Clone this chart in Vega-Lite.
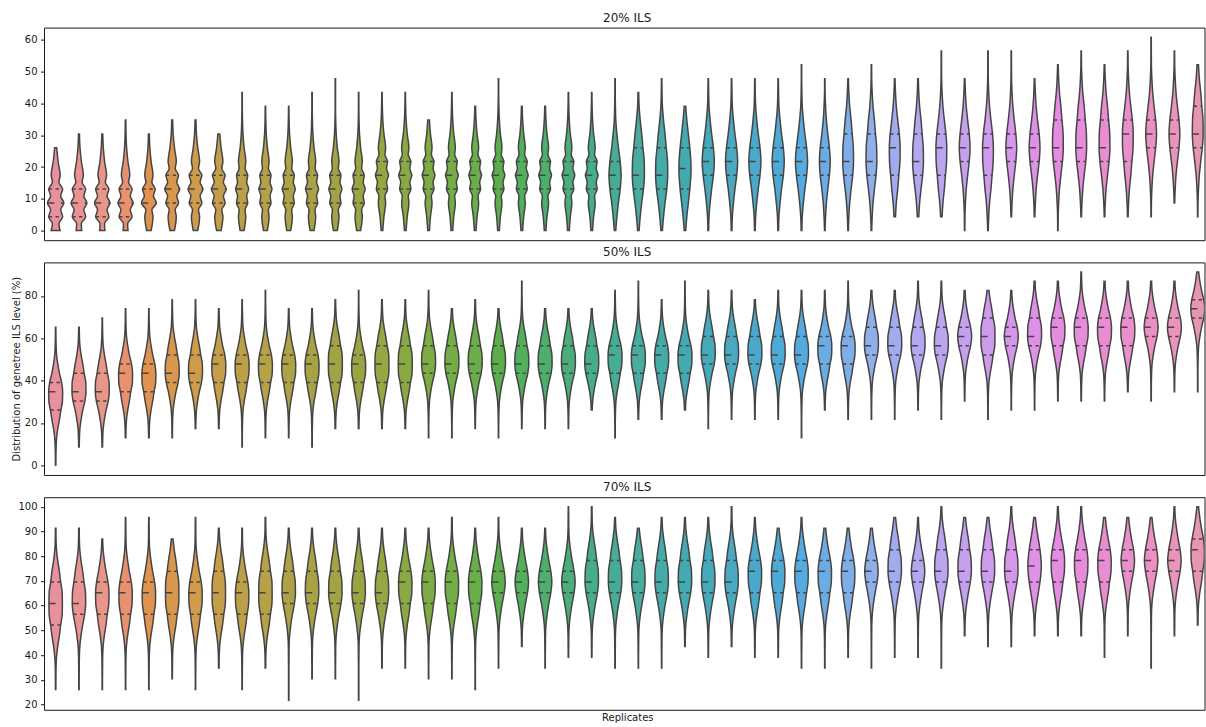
{
"$schema":"https://vega.github.io/schema/vega-lite/v6.json",
"background":"white",
"padding":{"left":10,"top":10.6,"right":0,"bottom":0},
"bounds":"flush",
"spacing":21.8,
"config":{
 "view":{"stroke":"#1a1a1a","strokeWidth":1},
 "font":"DejaVu Sans",
 "axis":{"grid":false,"domain":false,"tickColor":"#1a1a1a","tickSize":3.5,"tickWidth":1,"labelFont":"DejaVu Sans","labelFontSize":10,"labelColor":"#1a1a1a","labelPadding":3.5,"titleFont":"DejaVu Sans","titleFontSize":10,"titleFontWeight":"normal","titleColor":"#1a1a1a"},
 "title":{"font":"DejaVu Sans","fontSize":12,"fontWeight":"normal","color":"#1a1a1a","offset":3,"anchor":"middle","dx":3}
},
"datasets":{"v":[
{"p":1,"r":1,"q1":1,"md":2,"q3":3,"k":[0,0.5,1,1.5,2,2.5,3,3.5,4,5,6],"d":[48,35,75,54,88,54,75,35,48,26,11]},
{"p":1,"r":2,"q1":1,"md":2,"q3":3,"k":[0,0.5,1,1.5,2,2.5,3,3.5,4,5,6,7],"d":[30,25,72,52,85,52,72,34,47,26,11,5]},
{"p":1,"r":3,"q1":1,"md":2,"q3":3,"k":[0,0.5,1,1.5,2,2.5,3,3.5,4,5,6,7],"d":[28,24,71,51,83,51,71,33,46,25,11,5]},
{"p":1,"r":4,"q1":1,"md":2,"q3":3,"k":[0,0.5,1,1.5,2,2.5,3,3.5,4,5,6,7,8],"d":[26,22,70,50,82,50,70,32,45,25,11,5,3]},
{"p":1,"r":5,"q1":2,"md":2,"q3":3,"k":[0,1,1.5,2,2.5,3,3.5,4,5,6,7],"d":[24,44,32,80,49,68,32,44,24,10,5]},
{"p":1,"r":6,"q1":2,"md":3,"q3":4,"k":[0,1,1.5,2,2.5,3,3.5,4,4.5,5,6,7,8],"d":[24,44,32,68,49,80,49,68,32,44,24,10,5]},
{"p":1,"r":7,"q1":2,"md":3,"q3":4,"k":[0,1,1.5,2,2.5,3,3.5,4,4.5,5,6,7,8],"d":[24,44,32,68,49,80,49,68,32,44,24,10,5]},
{"p":1,"r":8,"q1":2,"md":3,"q3":4,"k":[0,1,1.5,2,2.5,3,3.5,4,4.5,5,6,7],"d":[24,44,32,68,49,80,49,68,32,44,24,10]},
{"p":1,"r":9,"q1":2,"md":3,"q3":4,"k":[0,1,1.5,2,2.5,3,3.5,4,4.5,5,6,7,8,9,10],"d":[21,39,32,60,49,70,49,60,32,39,21,9,4,2,2]},
{"p":1,"r":10,"q1":2,"md":3,"q3":4,"k":[0,1,1.5,2,2.5,3,3.5,4,4.5,5,6,7,8,9],"d":[21,39,32,60,49,70,49,60,32,39,21,9,4,2]},
{"p":1,"r":11,"q1":2,"md":3,"q3":4,"k":[0,1,1.5,2,2.5,3,3.5,4,4.5,5,6,7,8,9],"d":[21,39,32,60,49,70,49,60,32,39,21,9,4,2]},
{"p":1,"r":12,"q1":2,"md":3,"q3":4,"k":[0,1,1.5,2,2.5,3,3.5,4,4.5,5,6,7,8,9,10],"d":[21,39,32,60,49,70,49,60,32,39,21,9,4,2,2]},
{"p":1,"r":13,"q1":2,"md":3,"q3":4,"k":[0,1,1.5,2,2.5,3,3.5,4,4.5,5,6,7,8,9,10,11],"d":[21,39,32,60,49,70,49,60,32,39,21,9,4,2,2,2]},
{"p":1,"r":14,"q1":2,"md":3,"q3":4,"k":[0,1,1.5,2,2.5,3,3.5,4,4.5,5,6,7,8,9,10],"d":[21,39,32,60,49,70,49,60,32,39,21,9,4,2,2]},
{"p":1,"r":15,"q1":3,"md":4,"q3":5,"k":[0,1,2,2.5,3,3.5,4,4.5,5,5.5,6,7,8,9,10],"d":[9,21,39,32,60,49,70,49,60,32,39,21,9,4,2]},
{"p":1,"r":16,"q1":3,"md":4,"q3":5,"k":[0,1,2,2.5,3,3.5,4,4.5,5,5.5,6,7,8,9,10],"d":[9,21,39,32,60,49,70,49,60,32,39,21,9,4,2]},
{"p":1,"r":17,"q1":3,"md":4,"q3":5,"k":[0,1,2,2.5,3,3.5,4,4.5,5,5.5,6,7,8],"d":[9,20,37,30,58,48,68,48,58,30,37,20,9]},
{"p":1,"r":18,"q1":3,"md":4,"q3":5,"k":[0,1,2,2.5,3,3.5,4,4.5,5,5.5,6,7,8,9,10],"d":[9,20,37,30,58,48,68,48,58,30,37,20,9,4,2]},
{"p":1,"r":19,"q1":3,"md":4,"q3":5,"k":[0,1,2,2.5,3,3.5,4,4.5,5,5.5,6,7,8,9],"d":[9,20,37,30,58,48,68,48,58,30,37,20,9,4]},
{"p":1,"r":20,"q1":3,"md":4,"q3":5,"k":[0,1,2,2.5,3,3.5,4,4.5,5,5.5,6,7,8,9,10,11],"d":[9,20,37,30,58,48,68,48,58,30,37,20,9,4,2,2]},
{"p":1,"r":21,"q1":3,"md":4,"q3":5,"k":[0,1,2,2.5,3,3.5,4,4.5,5,5.5,6,7,8,9],"d":[9,20,37,30,58,48,68,48,58,30,37,20,9,4]},
{"p":1,"r":22,"q1":3,"md":4,"q3":5,"k":[0,1,2,2.5,3,3.5,4,4.5,5,5.5,6,7,8,9],"d":[9,20,37,30,58,48,68,48,58,30,37,20,9,4]},
{"p":1,"r":23,"q1":3,"md":4,"q3":5,"k":[0,1,2,2.5,3,3.5,4,4.5,5,5.5,6,7,8,9,10],"d":[9,20,37,30,58,48,68,48,58,30,37,20,9,4,2]},
{"p":1,"r":24,"q1":3,"md":4,"q3":5,"k":[0,1,2,2.5,3,3.5,4,4.5,5,5.5,6,7,8,9,10],"d":[9,20,37,30,58,48,68,48,58,30,37,20,9,4,2]},
{"p":1,"r":25,"q1":3,"md":4,"q3":5,"k":[0,1,2,3,4,5,6,7,8,9,10,11],"d":[8,20,36,55,65,55,36,20,8,4,2,2]},
{"p":1,"r":26,"q1":3,"md":4,"q3":6,"k":[0,1,2,3,4,5,6,7,8,9,10],"d":[8,20,36,55,65,63,49,36,20,8,4]},
{"p":1,"r":27,"q1":3,"md":4,"q3":6,"k":[0,1,2,3,4,5,6,7,8,9,10,11],"d":[8,20,36,55,65,63,49,36,20,8,4,2]},
{"p":1,"r":28,"q1":3,"md":4.5,"q3":6,"k":[0,1,2,3,4,4.5,5,6,7,8,9],"d":[8,20,36,52,63,65,63,52,36,20,8]},
{"p":1,"r":29,"q1":4,"md":5,"q3":6,"k":[0,1,2,3,4,5,6,7,8,9,10,11],"d":[4,8,20,36,55,65,55,36,20,8,4,2]},
{"p":1,"r":30,"q1":4,"md":5,"q3":6,"k":[0,1,2,3,4,5,6,7,8,9,10,11],"d":[4,8,20,36,55,65,55,36,20,8,4,2]},
{"p":1,"r":31,"q1":4,"md":5,"q3":6,"k":[0,1,2,3,4,5,6,7,8,9,10,11],"d":[4,8,20,36,55,65,55,36,20,8,4,2]},
{"p":1,"r":32,"q1":4,"md":5,"q3":6,"k":[0,1,2,3,4,5,6,7,8,9,10,11],"d":[4,8,20,36,55,65,55,36,20,8,4,2]},
{"p":1,"r":33,"q1":4,"md":5,"q3":6,"k":[0,1,2,3,4,5,6,7,8,9,10,11,12],"d":[4,8,20,36,55,65,55,36,20,8,4,2,2]},
{"p":1,"r":34,"q1":4,"md":5,"q3":6,"k":[0,1,2,3,4,5,6,7,8,9,10,11],"d":[3,8,17,32,49,58,49,32,17,8,3,2]},
{"p":1,"r":35,"q1":4,"md":5,"q3":7,"k":[0,1,2,3,4,5,6,7,8,9,10,11],"d":[3,8,17,32,49,58,56,44,32,17,8,3]},
{"p":1,"r":36,"q1":4,"md":5,"q3":7,"k":[0,1,2,3,4,5,6,7,8,9,10,11,12],"d":[3,8,17,32,49,58,56,44,32,17,8,3,2]},
{"p":1,"r":37,"q1":4,"md":6,"q3":7,"k":[1,2,3,4,5,6,7,8,9,10,11],"d":[8,17,32,44,56,58,49,32,17,8,3]},
{"p":1,"r":38,"q1":4,"md":5,"q3":7,"k":[1,2,3,4,5,6,7,8,9,10,11],"d":[8,17,32,49,58,56,44,32,17,8,3]},
{"p":1,"r":39,"q1":4,"md":6,"q3":7,"k":[1,2,3,4,5,6,7,8,9,10,11,12,13],"d":[8,17,32,44,56,58,49,32,17,8,3,2,2]},
{"p":1,"r":40,"q1":5,"md":6,"q3":7,"k":[0,1,2,3,4,5,6,7,8,9,10,11],"d":[2,3,8,17,32,49,58,49,32,17,8,3]},
{"p":1,"r":41,"q1":4,"md":6,"q3":7,"k":[0,1,2,3,4,5,6,7,8,9,10,11,12,13],"d":[3,8,17,32,44,56,58,49,32,17,8,3,2,2]},
{"p":1,"r":42,"q1":5,"md":6,"q3":7,"k":[1,2,3,4,5,6,7,8,9,10,11,12,13],"d":[3,8,17,32,49,58,49,32,17,8,3,2,2]},
{"p":1,"r":43,"q1":5,"md":6,"q3":7,"k":[1,2,3,4,5,6,7,8,9,10,11],"d":[3,8,17,32,49,58,49,32,17,8,3]},
{"p":1,"r":44,"q1":5,"md":6,"q3":8,"k":[0,1,2,3,4,5,6,7,8,9,10,11,12],"d":[2,3,8,17,32,49,58,56,44,32,17,8,3]},
{"p":1,"r":45,"q1":5,"md":6,"q3":8,"k":[1,2,3,4,5,6,7,8,9,10,11,12,13],"d":[3,8,17,32,49,58,56,44,32,17,8,3,2]},
{"p":1,"r":46,"q1":5,"md":6,"q3":8,"k":[1,2,3,4,5,6,7,8,9,10,11,12],"d":[3,8,17,32,49,58,56,44,32,17,8,3]},
{"p":1,"r":47,"q1":5,"md":7,"q3":8,"k":[1,2,3,4,5,6,7,8,9,10,11,12,13],"d":[3,8,17,32,44,56,58,49,32,17,8,3,2]},
{"p":1,"r":48,"q1":6,"md":7,"q3":8,"k":[1,2,3,4,5,6,7,8,9,10,11,12,13,14],"d":[2,3,8,17,32,49,58,49,32,17,8,3,2,2]},
{"p":1,"r":49,"q1":6,"md":7,"q3":8,"k":[2,3,4,5,6,7,8,9,10,11,12,13],"d":[3,8,17,32,49,58,49,32,17,8,3,2]},
{"p":1,"r":50,"q1":6,"md":7,"q3":9,"k":[1,2,3,4,5,6,7,8,9,10,11,12],"d":[2,3,8,17,32,49,58,56,44,32,17,8]},
{"p":2,"r":1,"q1":6,"md":8,"q3":9,"k":[0,1,2,3,4,5,6,7,8,9,10,11,12,13,14,15],"d":[2,3,5,10,23,41,56,73,75,64,41,23,10,5,3,2]},
{"p":2,"r":2,"q1":7,"md":8,"q3":10,"k":[2,3,4,5,6,7,8,9,10,11,12,13,14,15],"d":[3,5,10,23,41,64,75,73,56,41,23,10,5,3]},
{"p":2,"r":3,"q1":7,"md":8,"q3":10,"k":[2,3,4,5,6,7,8,9,10,11,12,13,14,15,16],"d":[3,5,10,23,41,64,75,73,56,41,23,10,5,3,2]},
{"p":2,"r":4,"q1":8,"md":10,"q3":11,"k":[3,4,5,6,7,8,9,10,11,12,13,14,15,16,17],"d":[3,5,10,23,41,56,73,75,64,41,23,10,5,3,2]},
{"p":2,"r":5,"q1":8,"md":10,"q3":11,"k":[3,4,5,6,7,8,9,10,11,12,13,14,15,16,17],"d":[3,5,10,23,41,56,73,75,64,41,23,10,5,3,2]},
{"p":2,"r":6,"q1":9,"md":10,"q3":12,"k":[3,4,5,6,7,8,9,10,11,12,13,14,15,16,17,18],"d":[2,3,5,10,23,41,64,75,73,56,41,23,10,5,3,2]},
{"p":2,"r":7,"q1":9,"md":10,"q3":12,"k":[4,5,6,7,8,9,10,11,12,13,14,15,16,17,18],"d":[3,5,10,23,41,64,75,73,56,41,23,10,5,3,2]},
{"p":2,"r":8,"q1":9,"md":11,"q3":12,"k":[4,5,6,7,8,9,10,11,12,13,14,15,16,17],"d":[3,5,10,23,41,56,73,75,64,41,23,10,5,3]},
{"p":2,"r":9,"q1":9,"md":11,"q3":12,"k":[2,3,4,5,6,7,8,9,10,11,12,13,14,15,16,17,18],"d":[2,2,3,5,10,23,41,56,73,75,64,41,23,10,5,3,2]},
{"p":2,"r":10,"q1":9,"md":11,"q3":12,"k":[3,4,5,6,7,8,9,10,11,12,13,14,15,16,17,18,19],"d":[2,3,5,10,23,41,56,73,75,64,41,23,10,5,3,2,2]},
{"p":2,"r":11,"q1":9,"md":11,"q3":12,"k":[3,4,5,6,7,8,9,10,11,12,13,14,15,16,17],"d":[2,3,5,10,23,41,56,73,75,64,41,23,10,5,3]},
{"p":2,"r":12,"q1":9,"md":11,"q3":12,"k":[2,3,4,5,6,7,8,9,10,11,12,13,14,15,16,17],"d":[2,2,3,5,10,23,41,56,73,75,64,41,23,10,5,3]},
{"p":2,"r":13,"q1":9,"md":11,"q3":13,"k":[4,5,6,7,8,9,10,11,12,13,14,15,16,17,18],"d":[3,5,10,23,41,56,73,75,73,56,41,23,10,5,3]},
{"p":2,"r":14,"q1":9,"md":11,"q3":12,"k":[4,5,6,7,8,9,10,11,12,13,14,15,16,17,18,19],"d":[3,5,10,23,41,56,73,75,64,41,23,10,5,3,2,2]},
{"p":2,"r":15,"q1":9,"md":11,"q3":13,"k":[4,5,6,7,8,9,10,11,12,13,14,15,16,17,18],"d":[3,5,10,23,41,56,73,75,73,56,41,23,10,5,3]},
{"p":2,"r":16,"q1":9,"md":11,"q3":13,"k":[4,5,6,7,8,9,10,11,12,13,14,15,16,17,18],"d":[3,5,10,23,41,56,73,75,73,56,41,23,10,5,3]},
{"p":2,"r":17,"q1":10,"md":11,"q3":13,"k":[3,4,5,6,7,8,9,10,11,12,13,14,15,16,17,18,19],"d":[2,2,3,5,10,23,41,64,75,73,56,41,23,10,5,3,2]},
{"p":2,"r":18,"q1":10,"md":11,"q3":13,"k":[3,4,5,6,7,8,9,10,11,12,13,14,15,16,17],"d":[2,2,3,5,10,23,41,64,75,73,56,41,23,10,5]},
{"p":2,"r":19,"q1":10,"md":11,"q3":13,"k":[4,5,6,7,8,9,10,11,12,13,14,15,16,17,18],"d":[2,3,5,10,23,41,64,75,73,56,41,23,10,5,3]},
{"p":2,"r":20,"q1":10,"md":11,"q3":13,"k":[3,4,5,6,7,8,9,10,11,12,13,14,15,16,17],"d":[2,2,3,5,10,23,41,64,75,73,56,41,23,10,5]},
{"p":2,"r":21,"q1":10,"md":11,"q3":13,"k":[4,5,6,7,8,9,10,11,12,13,14,15,16,17,18,19,20],"d":[2,3,5,10,23,41,64,75,73,56,41,23,10,5,3,2,2]},
{"p":2,"r":22,"q1":10,"md":11,"q3":13,"k":[4,5,6,7,8,9,10,11,12,13,14,15,16,17],"d":[2,3,5,10,23,41,64,75,73,56,41,23,10,5]},
{"p":2,"r":23,"q1":10,"md":11,"q3":13,"k":[4,5,6,7,8,9,10,11,12,13,14,15,16,17],"d":[2,3,5,10,23,41,64,75,73,56,41,23,10,5]},
{"p":2,"r":24,"q1":10,"md":11,"q3":13,"k":[6,7,8,9,10,11,12,13,14,15,16,17],"d":[5,10,23,41,64,75,73,56,41,23,10,5]},
{"p":2,"r":25,"q1":10,"md":12,"q3":13,"k":[3,4,5,6,7,8,9,10,11,12,13,14,15,16,17,18,19],"d":[2,2,3,5,10,23,41,56,73,75,64,41,23,10,5,3,2]},
{"p":2,"r":26,"q1":10,"md":12,"q3":13,"k":[5,6,7,8,9,10,11,12,13,14,15,16,17,18,19,20],"d":[3,5,10,23,41,56,73,75,64,41,23,10,5,3,2,2]},
{"p":2,"r":27,"q1":10,"md":12,"q3":13,"k":[5,6,7,8,9,10,11,12,13,14,15,16,17,18],"d":[3,5,10,23,41,56,73,75,64,41,23,10,5,3]},
{"p":2,"r":28,"q1":10,"md":12,"q3":13,"k":[6,7,8,9,10,11,12,13,14,15,16,17,18,19,20],"d":[5,10,23,41,56,73,75,64,41,23,10,5,3,2,2]},
{"p":2,"r":29,"q1":11,"md":12,"q3":14,"k":[4,5,6,7,8,9,10,11,12,13,14,15,16,17,18,19],"d":[2,2,3,5,10,23,41,64,75,73,56,41,23,10,5,3]},
{"p":2,"r":30,"q1":11,"md":12,"q3":14,"k":[5,6,7,8,9,10,11,12,13,14,15,16,17,18,19],"d":[2,3,5,10,23,41,64,75,73,56,41,23,10,5,3]},
{"p":2,"r":31,"q1":11,"md":12,"q3":14,"k":[5,6,7,8,9,10,11,12,13,14,15,16,17,18],"d":[2,3,5,10,23,41,64,75,73,56,41,23,10,5]},
{"p":2,"r":32,"q1":11,"md":12,"q3":14,"k":[5,6,7,8,9,10,11,12,13,14,15,16,17,18,19],"d":[2,3,5,10,23,41,64,75,73,56,41,23,10,5,3]},
{"p":2,"r":33,"q1":11,"md":12,"q3":14,"k":[3,4,5,6,7,8,9,10,11,12,13,14,15,16,17,18,19],"d":[2,2,2,3,5,10,23,41,64,75,73,56,41,23,10,5,3]},
{"p":2,"r":34,"q1":11,"md":13,"q3":14,"k":[6,7,8,9,10,11,12,13,14,15,16,17,18,19],"d":[3,5,10,23,41,56,73,75,64,41,23,10,5,3]},
{"p":2,"r":35,"q1":11,"md":13,"q3":14,"k":[5,6,7,8,9,10,11,12,13,14,15,16,17,18,19,20],"d":[2,3,5,10,23,41,56,73,75,64,41,23,10,5,3,2]},
{"p":2,"r":36,"q1":12,"md":13,"q3":15,"k":[5,6,7,8,9,10,11,12,13,14,15,16,17,18,19],"d":[2,2,3,5,10,23,41,64,75,73,56,41,23,10,5]},
{"p":2,"r":37,"q1":12,"md":13,"q3":15,"k":[5,6,7,8,9,10,11,12,13,14,15,16,17,18,19],"d":[2,2,3,5,10,23,41,64,75,73,56,41,23,10,5]},
{"p":2,"r":38,"q1":12,"md":13,"q3":15,"k":[6,7,8,9,10,11,12,13,14,15,16,17,18,19,20],"d":[2,3,5,10,23,41,64,75,73,56,41,23,10,5,3]},
{"p":2,"r":39,"q1":12,"md":13,"q3":15,"k":[5,6,7,8,9,10,11,12,13,14,15,16,17,18,19,20],"d":[2,2,3,5,10,23,41,64,75,73,56,41,23,10,5,3]},
{"p":2,"r":40,"q1":13,"md":14,"q3":15,"k":[7,8,9,10,11,12,13,14,15,16,17,18,19],"d":[2,3,5,10,23,41,64,75,64,41,23,10,5]},
{"p":2,"r":41,"q1":12,"md":14,"q3":16,"k":[5,6,7,8,9,10,11,12,13,14,15,16,17,18,19],"d":[2,2,3,5,10,23,41,56,73,75,73,56,41,23,10]},
{"p":2,"r":42,"q1":13,"md":14,"q3":15,"k":[6,7,8,9,10,11,12,13,14,15,16,17,18,19],"d":[2,2,3,5,10,23,41,64,75,64,41,23,10,5]},
{"p":2,"r":43,"q1":13,"md":14,"q3":16,"k":[6,7,8,9,10,11,12,13,14,15,16,17,18,19,20],"d":[2,2,3,5,10,23,41,64,75,73,56,41,23,10,5]},
{"p":2,"r":44,"q1":13,"md":15,"q3":16,"k":[7,8,9,10,11,12,13,14,15,16,17,18,19,20],"d":[2,3,5,10,23,41,56,73,75,64,41,23,10,5]},
{"p":2,"r":45,"q1":13,"md":15,"q3":16,"k":[7,8,9,10,11,12,13,14,15,16,17,18,19,20,21],"d":[2,3,5,10,23,41,56,73,75,64,41,23,10,5,3]},
{"p":2,"r":46,"q1":13,"md":15,"q3":16,"k":[7,8,9,10,11,12,13,14,15,16,17,18,19,20],"d":[2,3,5,10,23,41,56,73,75,64,41,23,10,5]},
{"p":2,"r":47,"q1":13,"md":15,"q3":16,"k":[8,9,10,11,12,13,14,15,16,17,18,19,20],"d":[3,5,10,23,41,56,73,75,64,41,23,10,5]},
{"p":2,"r":48,"q1":14,"md":15,"q3":16,"k":[7,8,9,10,11,12,13,14,15,16,17,18,19,20],"d":[2,2,3,5,10,23,41,64,75,64,41,23,10,5]},
{"p":2,"r":49,"q1":14,"md":15,"q3":16,"k":[8,9,10,11,12,13,14,15,16,17,18,19,20],"d":[2,3,5,10,23,41,64,75,64,41,23,10,5]},
{"p":2,"r":50,"q1":16,"md":17,"q3":18,"k":[8,9,10,11,12,13,14,15,16,17,18,19,20,21],"d":[2,2,2,3,5,10,23,41,64,75,64,41,23,10]},
{"p":3,"r":1,"q1":12,"md":14,"q3":16,"k":[6,7,8,9,10,11,12,13,14,15,16,17,18,19,20,21],"d":[2,3,4,9,22,40,54,70,72,70,54,40,22,9,4,3]},
{"p":3,"r":2,"q1":13,"md":14,"q3":16,"k":[6,7,8,9,10,11,12,13,14,15,16,17,18,19,20,21],"d":[2,2,3,4,9,22,40,61,72,70,54,40,22,9,4,3]},
{"p":3,"r":3,"q1":13,"md":15,"q3":16,"k":[6,7,8,9,10,11,12,13,14,15,16,17,18,19,20],"d":[2,2,3,4,9,22,40,54,70,72,61,40,22,9,4]},
{"p":3,"r":4,"q1":13,"md":15,"q3":16,"k":[6,7,8,9,10,11,12,13,14,15,16,17,18,19,20,21,22],"d":[2,2,3,4,9,22,40,54,70,72,61,40,22,9,4,3,2]},
{"p":3,"r":5,"q1":13,"md":15,"q3":16,"k":[6,7,8,9,10,11,12,13,14,15,16,17,18,19,20,21,22],"d":[2,2,3,4,9,22,40,54,70,72,61,40,22,9,4,3,2]},
{"p":3,"r":6,"q1":13,"md":15,"q3":17,"k":[7,8,9,10,11,12,13,14,15,16,17,18,19,20],"d":[2,3,4,9,22,40,54,70,72,70,54,40,22,9]},
{"p":3,"r":7,"q1":13,"md":15,"q3":16,"k":[6,7,8,9,10,11,12,13,14,15,16,17,18,19,20,21,22],"d":[2,2,3,4,9,22,40,54,70,72,61,40,22,9,4,3,2]},
{"p":3,"r":8,"q1":13,"md":15,"q3":17,"k":[8,9,10,11,12,13,14,15,16,17,18,19,20,21],"d":[3,4,9,22,40,54,70,72,70,54,40,22,9,4]},
{"p":3,"r":9,"q1":13,"md":15,"q3":16,"k":[6,7,8,9,10,11,12,13,14,15,16,17,18,19,20,21],"d":[2,2,3,4,9,22,40,54,70,72,61,40,22,9,4,3]},
{"p":3,"r":10,"q1":13,"md":15,"q3":17,"k":[8,9,10,11,12,13,14,15,16,17,18,19,20,21,22],"d":[3,4,9,22,40,54,70,72,70,54,40,22,9,4,3]},
{"p":3,"r":11,"q1":14,"md":15,"q3":17,"k":[5,6,7,8,9,10,11,12,13,14,15,16,17,18,19,20,21],"d":[2,2,2,2,3,4,9,22,40,61,72,70,54,40,22,9,4]},
{"p":3,"r":12,"q1":14,"md":15,"q3":17,"k":[7,8,9,10,11,12,13,14,15,16,17,18,19,20,21],"d":[2,2,3,4,9,22,40,61,72,70,54,40,22,9,4]},
{"p":3,"r":13,"q1":14,"md":15,"q3":17,"k":[7,8,9,10,11,12,13,14,15,16,17,18,19,20,21],"d":[2,2,3,4,9,22,40,61,72,70,54,40,22,9,4]},
{"p":3,"r":14,"q1":14,"md":15,"q3":17,"k":[5,6,7,8,9,10,11,12,13,14,15,16,17,18,19,20,21],"d":[2,2,2,2,3,4,9,22,40,61,72,70,54,40,22,9,4]},
{"p":3,"r":15,"q1":14,"md":15,"q3":17,"k":[8,9,10,11,12,13,14,15,16,17,18,19,20,21],"d":[2,3,4,9,22,40,61,72,70,54,40,22,9,4]},
{"p":3,"r":16,"q1":14,"md":16,"q3":17,"k":[8,9,10,11,12,13,14,15,16,17,18,19,20,21],"d":[2,3,4,9,22,40,54,70,72,61,40,22,9,4]},
{"p":3,"r":17,"q1":14,"md":16,"q3":17,"k":[7,8,9,10,11,12,13,14,15,16,17,18,19,20,21],"d":[2,2,3,4,9,22,40,54,70,72,61,40,22,9,4]},
{"p":3,"r":18,"q1":14,"md":16,"q3":17,"k":[7,8,9,10,11,12,13,14,15,16,17,18,19,20,21,22],"d":[2,2,3,4,9,22,40,54,70,72,61,40,22,9,4,3]},
{"p":3,"r":19,"q1":14,"md":16,"q3":17,"k":[6,7,8,9,10,11,12,13,14,15,16,17,18,19,20,21],"d":[2,2,2,3,4,9,22,40,54,70,72,61,40,22,9,4]},
{"p":3,"r":20,"q1":15,"md":16,"q3":17,"k":[8,9,10,11,12,13,14,15,16,17,18,19,20,21,22],"d":[2,2,3,4,9,22,40,61,72,61,40,22,9,4,3]},
{"p":3,"r":21,"q1":15,"md":16,"q3":17,"k":[10,11,12,13,14,15,16,17,18,19,20,21],"d":[3,4,9,22,40,61,72,61,40,22,9,4]},
{"p":3,"r":22,"q1":15,"md":16,"q3":17,"k":[8,9,10,11,12,13,14,15,16,17,18,19,20,21],"d":[2,2,3,4,9,22,40,61,72,61,40,22,9,4]},
{"p":3,"r":23,"q1":15,"md":16,"q3":17,"k":[9,10,11,12,13,14,15,16,17,18,19,20,21,22,23],"d":[2,3,4,9,22,40,61,72,61,40,22,9,4,3,2]},
{"p":3,"r":24,"q1":15,"md":16,"q3":18,"k":[9,10,11,12,13,14,15,16,17,18,19,20,21,22,23],"d":[2,3,4,9,22,40,61,72,70,54,40,22,9,4,3]},
{"p":3,"r":25,"q1":15,"md":16,"q3":18,"k":[8,9,10,11,12,13,14,15,16,17,18,19,20,21,22],"d":[2,2,3,4,9,22,40,61,72,70,54,40,22,9,4]},
{"p":3,"r":26,"q1":15,"md":16,"q3":18,"k":[8,9,10,11,12,13,14,15,16,17,18,19,20,21],"d":[2,2,3,4,9,22,40,61,72,70,54,40,22,9]},
{"p":3,"r":27,"q1":15,"md":16,"q3":18,"k":[8,9,10,11,12,13,14,15,16,17,18,19,20,21,22],"d":[2,2,3,4,9,22,40,61,72,70,54,40,22,9,4]},
{"p":3,"r":28,"q1":15,"md":16,"q3":18,"k":[10,11,12,13,14,15,16,17,18,19,20,21,22],"d":[3,4,9,22,40,61,72,70,54,40,22,9,4]},
{"p":3,"r":29,"q1":15,"md":16,"q3":18,"k":[9,10,11,12,13,14,15,16,17,18,19,20,21,22],"d":[2,3,4,9,22,40,61,72,70,54,40,22,9,4]},
{"p":3,"r":30,"q1":15,"md":16,"q3":18,"k":[10,11,12,13,14,15,16,17,18,19,20,21,22,23],"d":[3,4,9,22,40,61,72,70,54,40,22,9,4,3]},
{"p":3,"r":31,"q1":15,"md":17,"q3":18,"k":[9,10,11,12,13,14,15,16,17,18,19,20,21,22],"d":[2,3,4,9,22,40,54,70,72,61,40,22,9,4]},
{"p":3,"r":32,"q1":15,"md":17,"q3":18,"k":[9,10,11,12,13,14,15,16,17,18,19,20,21],"d":[2,3,4,9,22,40,54,70,72,61,40,22,9]},
{"p":3,"r":33,"q1":15,"md":17,"q3":18,"k":[8,9,10,11,12,13,14,15,16,17,18,19,20,21,22],"d":[2,2,3,4,9,22,40,54,70,72,61,40,22,9,4]},
{"p":3,"r":34,"q1":15,"md":17,"q3":18,"k":[8,9,10,11,12,13,14,15,16,17,18,19,20,21],"d":[2,2,3,4,9,22,40,54,70,72,61,40,22,9]},
{"p":3,"r":35,"q1":15,"md":17,"q3":18,"k":[9,10,11,12,13,14,15,16,17,18,19,20,21],"d":[2,3,4,9,22,40,54,70,72,61,40,22,9]},
{"p":3,"r":36,"q1":16,"md":17,"q3":18,"k":[8,9,10,11,12,13,14,15,16,17,18,19,20,21],"d":[2,2,2,3,4,9,22,40,61,72,61,40,22,9]},
{"p":3,"r":37,"q1":16,"md":17,"q3":19,"k":[9,10,11,12,13,14,15,16,17,18,19,20,21,22],"d":[2,2,3,4,9,22,40,61,72,70,54,40,22,9]},
{"p":3,"r":38,"q1":16,"md":17,"q3":18,"k":[9,10,11,12,13,14,15,16,17,18,19,20,21,22],"d":[2,2,3,4,9,22,40,61,72,61,40,22,9,4]},
{"p":3,"r":39,"q1":16,"md":17,"q3":19,"k":[8,9,10,11,12,13,14,15,16,17,18,19,20,21,22,23],"d":[2,2,2,3,4,9,22,40,61,72,70,54,40,22,9,4]},
{"p":3,"r":40,"q1":16,"md":17,"q3":19,"k":[11,12,13,14,15,16,17,18,19,20,21,22],"d":[3,4,9,22,40,61,72,70,54,40,22,9]},
{"p":3,"r":41,"q1":16,"md":17,"q3":19,"k":[10,11,12,13,14,15,16,17,18,19,20,21,22],"d":[2,3,4,9,22,40,61,72,70,54,40,22,9]},
{"p":3,"r":42,"q1":16,"md":17,"q3":19,"k":[10,11,12,13,14,15,16,17,18,19,20,21,22,23],"d":[2,3,4,9,22,40,61,72,70,54,40,22,9,4]},
{"p":3,"r":43,"q1":16,"md":17.5,"q3":19,"k":[11,12,13,14,15,16,17,17.5,18,19,20,21,22],"d":[3,4,9,22,40,58,70,72,70,58,40,22,9]},
{"p":3,"r":44,"q1":16,"md":18,"q3":19,"k":[11,12,13,14,15,16,17,18,19,20,21,22,23],"d":[3,4,9,22,40,54,70,72,61,40,22,9,4]},
{"p":3,"r":45,"q1":16,"md":18,"q3":19,"k":[11,12,13,14,15,16,17,18,19,20,21,22,23],"d":[3,4,9,22,40,54,70,72,61,40,22,9,4]},
{"p":3,"r":46,"q1":16,"md":18,"q3":19,"k":[9,10,11,12,13,14,15,16,17,18,19,20,21,22],"d":[2,2,3,4,9,22,40,54,70,72,61,40,22,9]},
{"p":3,"r":47,"q1":17,"md":18,"q3":19,"k":[11,12,13,14,15,16,17,18,19,20,21,22],"d":[2,3,4,9,22,40,61,72,61,40,22,9]},
{"p":3,"r":48,"q1":17,"md":18,"q3":19,"k":[8,9,10,11,12,13,14,15,16,17,18,19,20,21,22],"d":[2,2,2,2,3,4,9,22,40,61,72,61,40,22,9]},
{"p":3,"r":49,"q1":17,"md":18,"q3":19,"k":[11,12,13,14,15,16,17,18,19,20,21,22,23],"d":[2,3,4,9,22,40,61,72,61,40,22,9,4]},
{"p":3,"r":50,"q1":17,"md":19,"q3":20,"k":[12,13,14,15,16,17,18,19,20,21,22,23],"d":[3,4,9,22,40,54,70,72,61,40,22,9]}
]},
"vconcat":[
{"width":1160.5,"height":212.6,"title":"20% ILS","data":{"name":"v"},
 "transform":[{"filter":"datum.p == 1"},{"flatten":["k","d"]},{"calculate":"datum.k*100/23","as":"v"},{"calculate":"datum.r - datum.d*0.004","as":"xa"},{"calculate":"datum.r + datum.d*0.004","as":"xb"}],
 "encoding":{
  "y":{"field":"v","type":"quantitative","scale":{"domain":[-3.04,63.9],"nice":false,"zero":false},"axis":{"values":[0,10,20,30,40,50,60],"title":null}},
  "x":{"field":"xa","type":"quantitative","stack":null,"scale":{"domain":[0.5,50.29],"nice":false,"zero":false},"axis":null},
  "x2":{"field":"xb"}
 },
 "layer":[
  {"mark":{"type":"area","orient":"horizontal","interpolate":"monotone","stroke":"#454545","strokeWidth":1.5,"clip":true},
   "encoding":{"color":{"field":"r","type":"quantitative","scale":{"type":"linear","domain":[1,3,5,7,9,13,17,20,23,26,30,33,36,38,41,44,47,50],"range":["#e8919c","#e8958a","#e0924f","#d09c4b","#bba048","#a3a245","#7fab45","#5aaf4c","#4bae78","#4aab9f","#4aa8c0","#55abe0","#90aee9","#b3a8f0","#cf9ced","#e58be2","#e98fcc","#e895b4"],"interpolate":"hcl"},"legend":null},"detail":{"field":"r","type":"nominal"}}},
  {"transform":[{"filter":"datum.k == datum.md"}],"mark":{"type":"rule","color":"#454545","strokeWidth":1.5,"strokeDash":[6.75,6.75],"clip":true},"encoding":{}},
  {"transform":[{"filter":"datum.k != datum.md && (datum.k == datum.q1 || datum.k == datum.q3)"}],"mark":{"type":"rule","color":"#454545","strokeWidth":1.5,"strokeDash":[3.4,3.4],"clip":true},"encoding":{}}
 ]},
{"width":1160.5,"height":212.6,"title":"50% ILS","data":{"name":"v"},
 "transform":[{"filter":"datum.p == 2"},{"flatten":["k","d"]},{"calculate":"datum.k*100/23","as":"v"},{"calculate":"datum.r - datum.d*0.004","as":"xa"},{"calculate":"datum.r + datum.d*0.004","as":"xb"}],
 "encoding":{
  "y":{"field":"v","type":"quantitative","scale":{"domain":[-4.57,95.87],"nice":false,"zero":false},"axis":{"values":[0,20,40,60,80],"title":"Distribution of genetree ILS level (%)","titleX":-27.5,"titleY":106.3,"titleAngle":-90,"titleBaseline":"middle","titleAlign":"center"}},
  "x":{"field":"xa","type":"quantitative","stack":null,"scale":{"domain":[0.5,50.29],"nice":false,"zero":false},"axis":null},
  "x2":{"field":"xb"}
 },
 "layer":[
  {"mark":{"type":"area","orient":"horizontal","interpolate":"monotone","stroke":"#454545","strokeWidth":1.5,"clip":true},
   "encoding":{"color":{"field":"r","type":"quantitative","scale":{"type":"linear","domain":[1,3,5,7,9,13,17,20,23,26,30,33,36,38,41,44,47,50],"range":["#e8919c","#e8958a","#e0924f","#d09c4b","#bba048","#a3a245","#7fab45","#5aaf4c","#4bae78","#4aab9f","#4aa8c0","#55abe0","#90aee9","#b3a8f0","#cf9ced","#e58be2","#e98fcc","#e895b4"],"interpolate":"hcl"},"legend":null},"detail":{"field":"r","type":"nominal"}}},
  {"transform":[{"filter":"datum.k == datum.md"}],"mark":{"type":"rule","color":"#454545","strokeWidth":1.5,"strokeDash":[6.75,6.75],"clip":true},"encoding":{}},
  {"transform":[{"filter":"datum.k != datum.md && (datum.k == datum.q1 || datum.k == datum.q3)"}],"mark":{"type":"rule","color":"#454545","strokeWidth":1.5,"strokeDash":[3.4,3.4],"clip":true},"encoding":{}}
 ]},
{"width":1160.5,"height":212.6,"title":"70% ILS","data":{"name":"v"},
 "transform":[{"filter":"datum.p == 3"},{"flatten":["k","d"]},{"calculate":"datum.k*100/23","as":"v"},{"calculate":"datum.r - datum.d*0.004","as":"xa"},{"calculate":"datum.r + datum.d*0.004","as":"xb"}],
 "encoding":{
  "y":{"field":"v","type":"quantitative","scale":{"domain":[17.83,103.91],"nice":false,"zero":false},"axis":{"values":[20,30,40,50,60,70,80,90,100],"title":null}},
  "x":{"field":"xa","type":"quantitative","stack":null,"scale":{"domain":[0.5,50.29],"nice":false,"zero":false},"axis":{"title":"Replicates","labels":false,"ticks":false,"domain":false,"titleX":583.3,"titleY":3,"titleBaseline":"top","titleAlign":"center"}},
  "x2":{"field":"xb"}
 },
 "layer":[
  {"mark":{"type":"area","orient":"horizontal","interpolate":"monotone","stroke":"#454545","strokeWidth":1.5,"clip":true},
   "encoding":{"color":{"field":"r","type":"quantitative","scale":{"type":"linear","domain":[1,3,5,7,9,13,17,20,23,26,30,33,36,38,41,44,47,50],"range":["#e8919c","#e8958a","#e0924f","#d09c4b","#bba048","#a3a245","#7fab45","#5aaf4c","#4bae78","#4aab9f","#4aa8c0","#55abe0","#90aee9","#b3a8f0","#cf9ced","#e58be2","#e98fcc","#e895b4"],"interpolate":"hcl"},"legend":null},"detail":{"field":"r","type":"nominal"}}},
  {"transform":[{"filter":"datum.k == datum.md"}],"mark":{"type":"rule","color":"#454545","strokeWidth":1.5,"strokeDash":[6.75,6.75],"clip":true},"encoding":{}},
  {"transform":[{"filter":"datum.k != datum.md && (datum.k == datum.q1 || datum.k == datum.q3)"}],"mark":{"type":"rule","color":"#454545","strokeWidth":1.5,"strokeDash":[3.4,3.4],"clip":true},"encoding":{}}
 ]}
]
}
